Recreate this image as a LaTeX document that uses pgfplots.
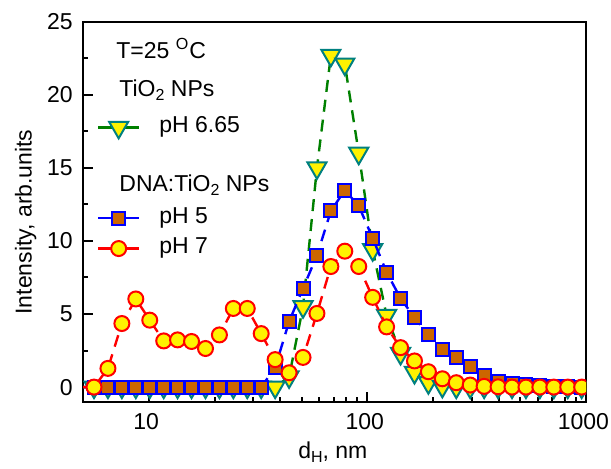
\documentclass[border=0pt]{standalone}
\usepackage{pgfplots}
\pgfplotsset{compat=1.18}
\usepackage{fontspec}
\setmainfont{Liberation Sans}

\definecolor{triedge}{RGB}{0,128,128}
\definecolor{triline}{RGB}{0,128,0}
\definecolor{sqfill}{RGB}{204,102,0}

% Zetasizer size bins, nm
\pgfplotstableread{
x      tio2   dna5   dna7
4.849  0      0      0
5.615  0      0      0
6.503  0      0      1.28
7.531  0      0      4.35
8.721  0      0      6.03
10.10  0      0      4.58
11.70  0      0      3.16
13.54  0      0      3.23
15.69  0      0      3.12
18.17  0      0      2.64
21.04  0      0      3.57
24.36  0      0      5.38
28.21  0      0      5.38
32.67  0      0      3.66
37.84  0      1.33   1.88
43.82  0.7    4.48   0.98
50.75  5.5    6.76   2.03
58.77  15.0   9.0    5.04
68.06  22.7   12.05  8.25
78.82  22.1   13.47  9.30
91.28  16.0   12.4   8.25
105.7  9.4    10.19  6.14
122.4  4.9    7.86   4.12
141.8  2.3    6.07   2.70
164.2  1.0    4.76   1.79
190.1  0.3    3.57   1.05
220.2  0.05   2.59   0.57
255.0  0      2.01   0.30
295.3  0      1.44   0.14
342.0  0      0.82   0.05
396.1  0      0.41   0.02
458.7  0      0.25   0
531.2  0      0.15   0
615.1  0      0.10   0
712.4  0      0.05   0
825.0  0      0.03   0
955.4  0      0      0
}\dls

\newcommand{\sub}[1]{\raisebox{-0.35ex}{\fontsize{8}{9}\selectfont #1}}

\begin{document}
\begin{tikzpicture}[font=\fontsize{11.5}{13.8}\selectfont]
\begin{axis}[
    name=ax,
    scale only axis,
    width=251.5pt,
    height=190pt,
    xmode=log,
    xmin=5, xmax=1000,
    ymin=-1, ymax=25,
    xtick={10,100,1000},
    xticklabels={10,100,1000},
    ytick={0,5,...,25},
    minor y tick num=1,
    tick align=inside,
    tick pos=left,
    axis line style={line width=1.2pt},
    every tick/.style={black, line width=1pt},
    major tick length=5pt,
    minor tick length=2.5pt,
    /pgf/number format/assume math mode=true,
    xticklabel style={anchor=north, inner sep=0pt, yshift=-5.8pt, xshift=-1.3pt},
    yticklabel style={anchor=east, inner sep=0pt, xshift=-5pt},
    xlabel={d\sub{H}, nm},
    ylabel={Intensity, arb.units},
    every axis x label/.style={at={(axis description cs:0.4966,0)},
        anchor=base, yshift=-28.3pt, inner sep=0pt},
    every axis y label/.style={at={(axis description cs:0,0.473)},
        xshift=-25.65pt, rotate=90, anchor=base, inner sep=0pt},
    clip marker paths=true,
    legend cell align=left,
    legend image code/.code={\draw[solid, mark repeat=2, mark phase=2, yshift=1pt]
        plot coordinates {(0cm,0cm) (0.36cm,0cm) (0.72cm,0cm)};},
    legend style={at={(axis description cs:0.0278,0.7566)}, anchor=north west,
        draw=none, fill=none, inner sep=0pt, outer sep=0pt,
        row sep=0pt, column sep=9.5pt,
        nodes={inner sep=0pt, text height=9.3pt, text depth=5.85pt}},
]
\addplot[triline, line width=1.2pt, dash pattern=on 6pt off 4pt,
    mark=triangle*, mark size=5.5pt,
    mark options={solid, rotate=180, fill=yellow, draw=triedge, line width=1pt}]
    table[x=x, y=tio2] {\dls};
\addlegendentry{pH 6.65}
\addlegendimage{empty legend}\addlegendentry{}
\addlegendimage{empty legend}\addlegendentry{}
\addplot[blue, line width=1.2pt, dash pattern=on 6pt off 4pt,
    mark=square*, mark size=3.25pt,
    mark options={solid, fill=sqfill, draw=blue, line width=1pt}]
    table[x=x, y=dna5] {\dls};
\addlegendentry{pH 5}
\addplot[red, line width=1.2pt, dash pattern=on 6pt off 4pt,
    mark=*, mark size=3.75pt,
    mark options={solid, fill=yellow, draw=red, line width=1pt}]
    table[x=x, y=dna7] {\dls};
\addlegendentry{pH 7}
\node[anchor=base west, inner sep=0pt] at (axis description cs:0.0656,0.904) {T=25 \textsuperscript{O}C};
\node[anchor=base west, inner sep=0pt] at (axis description cs:0.0716,0.803) {TiO\sub{2} NPs};
\node[anchor=base west, inner sep=0pt] at (axis description cs:0.0716,0.553) {DNA:TiO\sub{2} NPs};
\end{axis}
\pgfresetboundingbox
\path[use as bounding box] (ax.south west) ++(-41.5pt,-33.15pt) rectangle ++(305.5pt,234pt);
\end{tikzpicture}
\end{document}
